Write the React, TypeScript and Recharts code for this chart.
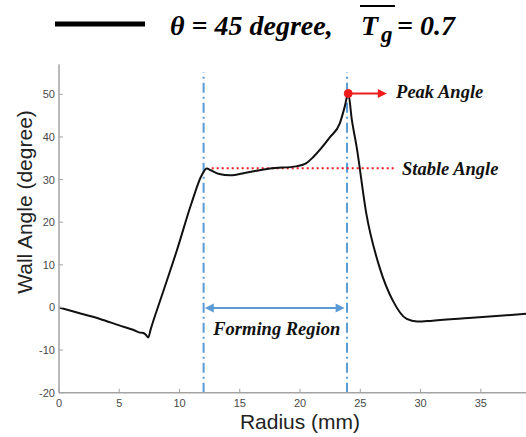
import React from "react";
import {
  LineChart,
  Line,
  XAxis,
  YAxis,
  ReferenceLine,
  ReferenceDot,
} from "recharts";

// Measured wall-angle profile along the radius
const radius = [
  0, 1.5, 3.4, 5, 6.2, 6.72, 7.0, 7.2, 7.41, 7.6, 8.5, 9.77, 11.0, 11.84, 12.25,
  12.6, 13.3, 14.2, 15.5, 17.5, 19.7, 20.5, 21.1, 22.5, 23.3, 23.7, 24.0, 24.3,
  24.7, 25.5, 26.6, 27.7, 28.85, 29.7, 31, 34, 38.75,
];
const wallAngle = [
  0, -1.2, -2.7, -4.2, -5.3, -5.9, -6.0, -6.4, -7.06, -5.2, 2.5, 13.3, 24.5, 31,
  32.6, 32.2, 31.3, 31.0, 31.6, 32.6, 33.1, 33.8, 35.3, 40, 43.2, 47, 50.2, 44,
  37.6, 22, 9.4, 1.6, -2.7, -3.3, -3.1, -2.5, -1.5,
];

const xTicks = [0, 5, 10, 15, 20, 25, 30, 35];
const yTicks = [-20, -10, 0, 10, 20, 30, 40, 50];

// Forming region bounds, peak and stable angle
const formingStart = 12;
const formingEnd = 23.9;
const peakRadius = 24.0;
const peakAngle = 50.2;
const stableAngle = 32.65;

const data = radius.map((r, i) => ({ r, a: wallAngle[i] }));

const AXIS = "#a3a3a3";
const TICK_TEXT = "#4a4a4a";
const BLUE = "#5b9bd5";
const RED = "#ee1c1c";
const SERIF = "'Liberation Serif', 'Times New Roman', serif";
const SANS = "'Liberation Sans', Arial, sans-serif";

const XTick = (p: any) => (
  <g>
    <line x1={p.x} y1={p.y} x2={p.x} y2={p.y - 4} stroke={AXIS} strokeWidth={1} />
    <text x={p.x} y={p.y + 14.5} textAnchor="middle" fontSize={11} fill={TICK_TEXT} fontFamily={SANS}>
      {p.payload.value}
    </text>
  </g>
);

const YTick = (p: any) => (
  <g>
    <line x1={p.x} y1={p.y} x2={p.x + 4} y2={p.y} stroke={AXIS} strokeWidth={1} />
    <text x={p.x - 4} y={p.y + 4} textAnchor="end" fontSize={11} fill={TICK_TEXT} fontFamily={SANS}>
      {p.payload.value}
    </text>
  </g>
);

const arrowHead = (x: number, y: number, dir: number, color: string, key: string) => (
  <polygon
    key={key}
    points={`${x},${y} ${x - dir * 9},${y - 4.5} ${x - dir * 9},${y + 4.5}`}
    fill={color}
  />
);

const RightArrow = (p: any) => (
  <g>
    <line x1={p.x1} y1={p.y1} x2={p.x2 - 6} y2={p.y2} stroke={RED} strokeWidth={2} />
    {arrowHead(p.x2, p.y2, 1, RED, "h")}
  </g>
);

const DoubleArrow = (p: any) => (
  <g>
    <line x1={p.x1 + 6} y1={p.y1} x2={p.x2 - 6} y2={p.y2} stroke={BLUE} strokeWidth={2} />
    {arrowHead(p.x1, p.y1, -1, BLUE, "l")}
    {arrowHead(p.x2, p.y2, 1, BLUE, "r")}
  </g>
);

const note = (text: string, anchor: "start" | "middle") => (p: any) => (
  <text
    x={p.cx}
    y={p.cy}
    textAnchor={anchor}
    fontFamily={SERIF}
    fontWeight="bold"
    fontStyle="italic"
    fontSize={18.5}
    fill="#111"
  >
    {text}
  </text>
);

const titleStyle = {
  fontFamily: SERIF,
  fontWeight: "bold" as const,
  fontStyle: "italic" as const,
  fill: "#000",
};

export default function App() {
  return (
    <div style={{ position: "absolute", left: 0, top: 0, width: 526, height: 437, background: "#fff" }}>
      <svg width={526} height={60} style={{ position: "absolute", left: 0, top: 0 }}>
        <line x1={55} y1={24} x2={145} y2={24} stroke="#000" strokeWidth={5} />
        <text x={170} y={35} fontSize={28} {...titleStyle}>
          θ = 45 degree,
        </text>
        <text x={361} y={35} fontSize={28} {...titleStyle}>
          T
        </text>
        <line x1={360} y1={6} x2={395} y2={6} stroke="#000" strokeWidth={2} />
        <text x={381} y={42} fontSize={23} {...titleStyle}>
          g
        </text>
        <text x={397} y={35} fontSize={28} {...titleStyle}>
          = 0.7
        </text>
      </svg>
      <div style={{ position: "absolute", left: 0, top: 0 }}>
        <LineChart
          width={526}
          height={437}
          data={data}
          margin={{ top: 64.5, right: 0, bottom: 0, left: 0 }}
        >
          <XAxis
            dataKey="r"
            type="number"
            domain={[0, 38.75]}
            allowDataOverflow
            ticks={xTicks}
            interval={0}
            height={44.3}
            tickSize={0}
            tickMargin={0}
            stroke={AXIS}
            strokeWidth={1.5}
            tick={XTick}
            label={() => (
              <text x={300} y={429} textAnchor="middle" fontSize={21} fontFamily={SANS} fill="#222">
                Radius (mm)
              </text>
            )}
          />
          <YAxis
            type="number"
            domain={[-20, 57]}
            allowDataOverflow
            ticks={yTicks}
            interval={0}
            width={59}
            tickSize={0}
            tickMargin={0}
            stroke={AXIS}
            strokeWidth={1.5}
            tick={YTick}
            label={() => (
              <text
                x={32}
                y={202}
                textAnchor="middle"
                fontSize={21}
                fontFamily={SANS}
                fill="#222"
                transform="rotate(-90 32 202)"
              >
                Wall Angle (degree)
              </text>
            )}
          />
          <ReferenceLine
            segment={[{ x: formingStart, y: -20 }, { x: formingStart, y: 55.2 }]}
            stroke={BLUE}
            strokeWidth={2}
            strokeDasharray="10 4 2 4"
          />
          <ReferenceLine
            segment={[{ x: formingEnd, y: -20 }, { x: formingEnd, y: 55.2 }]}
            stroke={BLUE}
            strokeWidth={2}
            strokeDasharray="10 4 2 4"
          />
          <ReferenceLine
            segment={[{ x: 12.67, y: stableAngle }, { x: 28.0, y: stableAngle }]}
            stroke={RED}
            strokeWidth={2}
            strokeDasharray="2 3"
          />
          <ReferenceLine
            segment={[{ x: 12.1, y: -0.1 }, { x: 23.7, y: -0.1 }]}
            shape={DoubleArrow}
          />
          <ReferenceLine
            segment={[{ x: peakRadius, y: peakAngle }, { x: 27.2, y: peakAngle }]}
            shape={RightArrow}
          />
          <Line
            type="monotone"
            dataKey="a"
            stroke="#111"
            strokeWidth={2}
            dot={false}
            isAnimationActive={false}
          />
          <ReferenceDot x={peakRadius} y={peakAngle} r={4} fill={RED} stroke={RED} />
          <ReferenceDot x={27.97} y={49.1} r={0} shape={note("Peak Angle", "start")} />
          <ReferenceDot x={28.46} y={31.07} r={0} shape={note("Stable Angle", "start")} />
          <ReferenceDot x={18.07} y={-6.47} r={0} shape={note("Forming Region", "middle")} />
        </LineChart>
      </div>
    </div>
  );
}
